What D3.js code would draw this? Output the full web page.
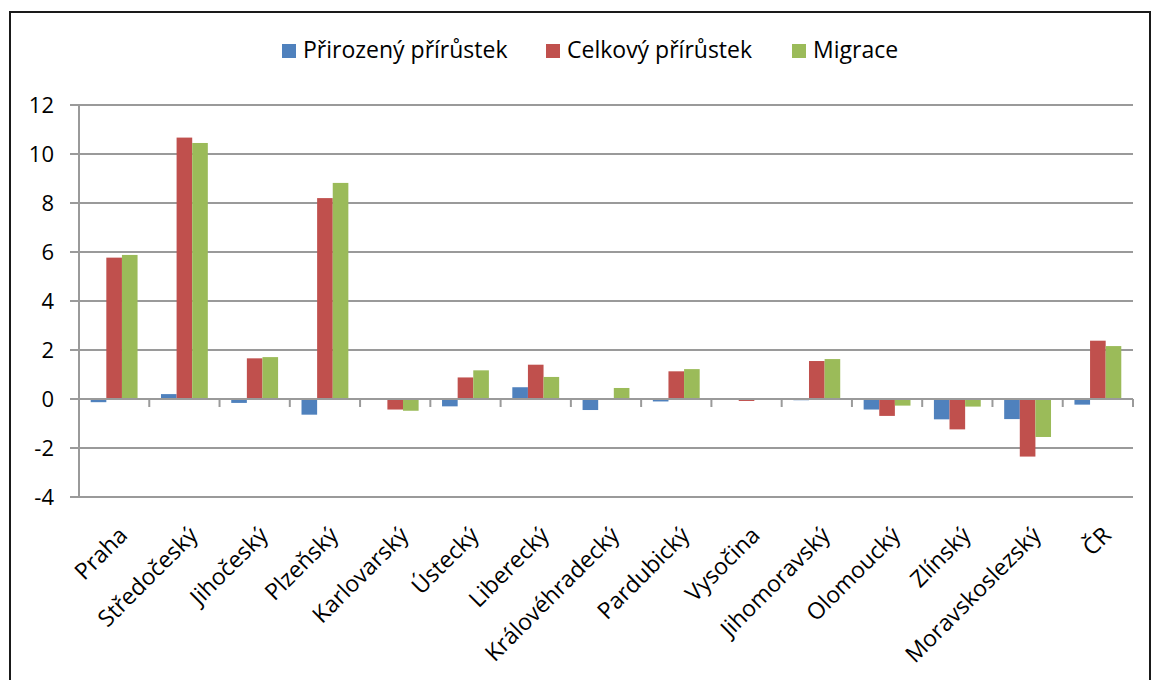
<!DOCTYPE html>
<html>
<head>
<meta charset="utf-8">
<script src="https://cdn.jsdelivr.net/npm/d3@7"></script>
<style>
  body { margin: 0; background: #fff; }
  text { font-family: "Open Sans", sans-serif; fill: #000; }
</style>
</head>
<body>
<svg id="chart"></svg>
<script>
// Data
const regions = ["Praha", "Středočeský", "Jihočeský", "Plzeňský", "Karlovarský", "Ústecký",
  "Liberecký", "Královéhradecký", "Pardubický", "Vysočina", "Jihomoravský", "Olomoucký",
  "Zlínský", "Moravskoslezský", "ČR"];
const seriesNames = ["Přirozený přírůstek", "Celkový přírůstek", "Migrace"];
const prirozeny = [-0.13, 0.2, -0.16, -0.64, 0.04, -0.3, 0.48, -0.45, -0.1, -0.03, -0.05, -0.43, -0.83, -0.82, -0.23];
const celkovy   = [5.77, 10.67, 1.66, 8.2, -0.43, 0.88, 1.4, 0.02, 1.13, -0.08, 1.55, -0.69, -1.24, -2.35, 2.38];
const migrace   = [5.88, 10.45, 1.71, 8.82, -0.48, 1.17, 0.9, 0.45, 1.22, -0.03, 1.63, -0.27, -0.31, -1.55, 2.16];
const yTicks = [-4, -2, 0, 2, 4, 6, 8, 10, 12];

const colors = ["#4f81bd", "#c0504d", "#9bbb59"];
const values = [prirozeny, celkovy, migrace];

const svg = d3.select("#chart"),
    width = 1152,
    height = 680;
svg.attr("width", width).attr("height", height);

// chart frame
svg.append("rect")
    .attr("x", 10).attr("y", 12)
    .attr("width", 1140).attr("height", 720)
    .attr("fill", "none")
    .attr("stroke", "#1a1a1a")
    .attr("stroke-width", 2);

const plotLeft = 79, plotRight = 1133, plotTop = 105, plotBottom = 497;

const x = d3.scaleBand().domain(regions).range([plotLeft, plotRight]).paddingInner(0).paddingOuter(0);
// gap width 150% -> each bar is 1/4.5 of the category
const x1 = d3.scaleBand().domain(d3.range(3)).range([0, x.bandwidth()]).paddingInner(0).paddingOuter(0.75);
const y = d3.scaleLinear().domain([-4, 12]).range([plotBottom, plotTop]);

// gridlines
svg.append("g")
    .selectAll("line")
    .data(yTicks)
    .join("line")
    .attr("x1", plotLeft - 9).attr("x2", plotRight)
    .attr("y1", d => y(d)).attr("y2", d => y(d))
    .attr("stroke", "#9a9a9a")
    .attr("stroke-width", 2);

// y axis line
svg.append("line")
    .attr("x1", plotLeft).attr("x2", plotLeft)
    .attr("y1", plotTop).attr("y2", plotBottom)
    .attr("stroke", "#9a9a9a")
    .attr("stroke-width", 2);

// y labels
svg.append("g")
    .selectAll("text")
    .data(yTicks)
    .join("text")
    .attr("x", 54)
    .attr("y", d => y(d))
    .attr("dy", "0.36em")
    .attr("text-anchor", "end")
    .style("font-size", "22px")
    .text(d => d);

// bars
const table = regions.map((r, i) => ({ region: r, vals: values.map(v => v[i]) }));
svg.append("g")
    .selectAll("g")
    .data(table)
    .join("g")
    .attr("transform", d => `translate(${x(d.region)},0)`)
    .selectAll("rect")
    .data(d => d.vals.map((v, k) => ({ k, v })))
    .join("rect")
    .attr("x", d => x1(d.k))
    .attr("width", x1.bandwidth())
    .attr("y", d => Math.min(y(d.v), y(0)))
    .attr("height", d => Math.abs(y(d.v) - y(0)))
    .attr("fill", d => colors[d.k]);

// category axis at zero with ticks
svg.append("line")
    .attr("x1", plotLeft).attr("x2", plotRight)
    .attr("y1", y(0)).attr("y2", y(0))
    .attr("stroke", "#9a9a9a")
    .attr("stroke-width", 2);
svg.append("g")
    .selectAll("line")
    .data(d3.range(regions.length + 1))
    .join("line")
    .attr("x1", i => plotLeft + i * x.step()).attr("x2", i => plotLeft + i * x.step())
    .attr("y1", y(0)).attr("y2", y(0) + 8)
    .attr("stroke", "#9a9a9a")
    .attr("stroke-width", 2);

// category labels rotated
svg.append("g")
    .selectAll("text")
    .data(regions)
    .join("text")
    .attr("transform", d => `translate(${x(d) + x.bandwidth() / 2 + 9},${531}) rotate(-45)`)
    .attr("text-anchor", "end")
    .attr("dy", "0.35em")
    .style("font-size", "23px")
    .text(d => d);

// legend
const legendX = [282, 546, 792];
const lg = svg.append("g")
    .selectAll("g")
    .data(seriesNames)
    .join("g")
    .attr("transform", (d, i) => `translate(${legendX[i]},44)`);
lg.append("rect")
    .attr("width", 14).attr("height", 14)
    .attr("fill", (d, i) => colors[i]);
lg.append("text")
    .attr("x", 21).attr("y", 14)
    .style("font-size", "23px")
    .text(d => d);
</script>
</body>
</html>
